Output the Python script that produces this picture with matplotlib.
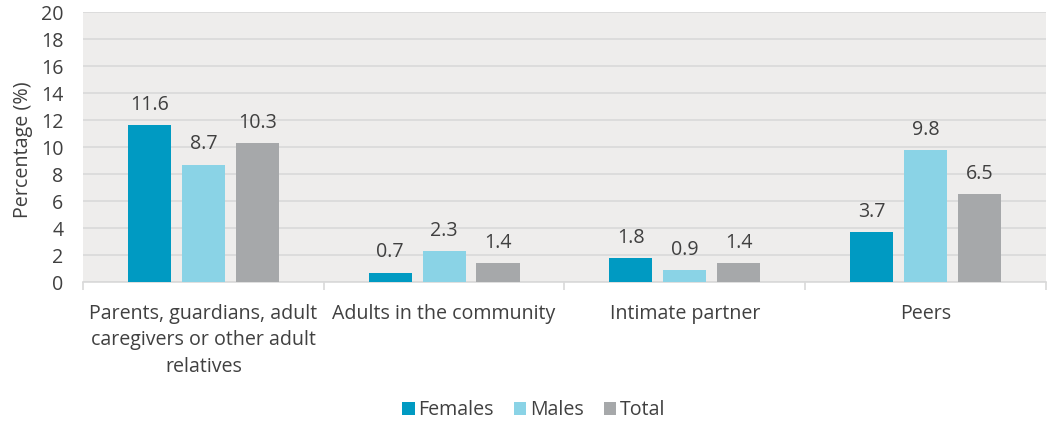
import matplotlib
matplotlib.use("Agg")
import matplotlib.pyplot as plt
import numpy as np
from matplotlib.patches import Patch

categories = ["Parents, guardians, adult\ncaregivers or other adult\nrelatives",
              "Adults in the community", "Intimate partner", "Peers"]
females = [11.6, 0.7, 1.8, 3.7]
males = [8.7, 2.3, 0.9, 9.8]
total = [10.3, 1.4, 1.4, 6.5]
series_names = ["Females", "Males", "Total"]
colors = ["#009AC2", "#8AD3E6", "#A6A8AA"]

plt.rcParams['font.family'] = ['Open Sans', 'DejaVu Sans']
text_color = "#404040"
fs = 14.1

fig = plt.figure(figsize=(10.57, 4.23), dpi=100)
ax = fig.add_axes([0.0785, 0.3333, 0.9111, 0.6383])
ax.set_facecolor("#EEEDEC")

x = np.arange(len(categories))
w = 0.179
step = 0.224
for i, (vals, c) in enumerate(zip([females, males, total], colors)):
    pos = x + (i - 1) * step
    bars = ax.bar(pos, vals, width=w, color=c, zorder=3)
    for b, v in zip(bars, vals):
        ax.text(b.get_x() + b.get_width() / 2, v + 0.75, f"{v:.1f}",
                ha="center", va="bottom", fontsize=fs, color=text_color)

ax.set_xlim(-0.5, 3.5)
ax.set_ylim(0, 20)
ax.set_yticks(range(0, 21, 2))
ax.yaxis.grid(True, color="#D9D9D9", linewidth=1.2, zorder=0)
ax.set_axisbelow(True)
for s in ["top", "right", "left"]:
    ax.spines[s].set_visible(False)
ax.spines["bottom"].set_color("#D9D9D9")
ax.spines["bottom"].set_linewidth(1.2)
ax.tick_params(axis="y", length=0, labelsize=fs, labelcolor=text_color, pad=14)

ax.set_xticks(x)
ax.set_xticklabels(categories, fontsize=fs, color=text_color, linespacing=1.45)
ax.tick_params(axis="x", length=0, pad=15.5)
ax.set_xticks(np.arange(-0.5, 4.0, 1.0), minor=True)
ax.tick_params(axis="x", which="minor", length=6, color="#D9D9D9", width=1.2)

ax.set_ylabel("Percentage (%)", fontsize=14.2, color=text_color)
ax.yaxis.set_label_coords(-0.052, 0.49)

handles = [Patch(facecolor=c, label=n) for c, n in zip(colors, series_names)]
fig.legend(handles=handles, loc="center", bbox_to_anchor=(0.505, 0.03), ncol=3,
           frameon=False, fontsize=fs, labelcolor=text_color,
           handlelength=0.65, handleheight=0.65, handletextpad=0.2, columnspacing=1.0)

fig.savefig("out.png", dpi=100)
